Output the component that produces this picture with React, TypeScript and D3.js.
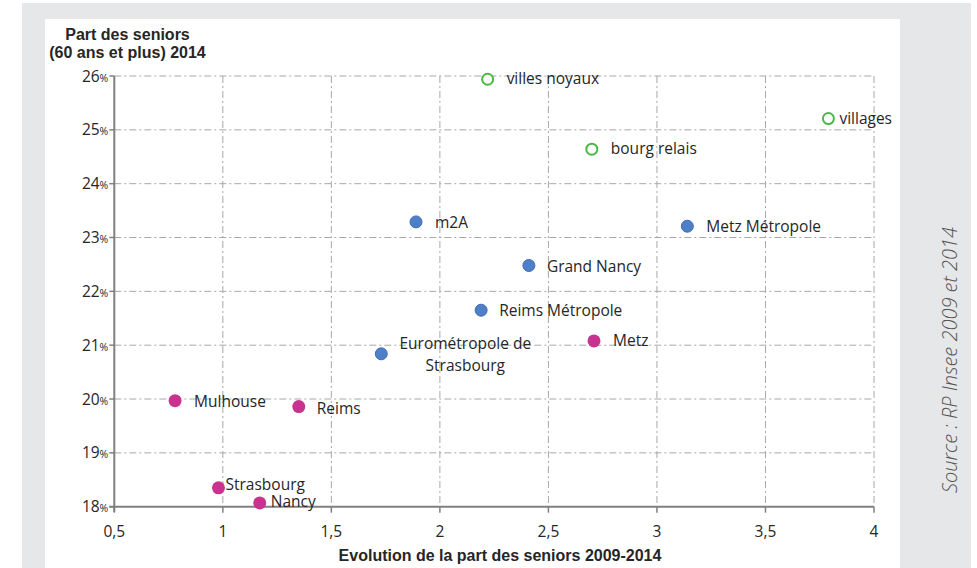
import React from "react";
import * as d3 from "d3";

const W = 977;
const H = 568;

// ---- data ----
const communes = ["Mulhouse", "Reims", "Strasbourg", "Nancy", "Metz"];
const communesX = [0.78, 1.35, 0.98, 1.17, 2.71];
const communesY = [19.97, 19.86, 18.35, 18.07, 21.08];

const epci = ["Eurométropole de Strasbourg", "m2A", "Grand Nancy", "Metz Métropole", "Reims Métropole"];
const epciX = [1.73, 1.89, 2.41, 3.14, 2.19];
const epciY = [20.84, 23.29, 22.48, 23.21, 21.65];

const espaces = ["villes noyaux", "villages", "bourg relais"];
const espacesX = [2.22, 3.79, 2.70];
const espacesY = [25.94, 25.21, 24.64];

const xTicks = [0.5, 1, 1.5, 2, 2.5, 3, 3.5, 4];
const yTicks = [18, 19, 20, 21, 22, 23, 24, 25, 26];

const xTitle = "Evolution de la part des seniors 2009-2014";
const yTitle = ["Part des seniors", "(60 ans et plus) 2014"];
const sourceText = "Source : RP Insee 2009 et 2014";

// label placement (style): dx, dy relative to point, anchor
const labelStyle: Record<string, { dx: number; dy: number; anchor?: string; lines?: string[] }> = {
  Mulhouse: { dx: 19, dy: 6 },
  Reims: { dx: 18, dy: 7 },
  Strasbourg: { dx: 7, dy: 2 },
  Nancy: { dx: 11, dy: 4 },
  Metz: { dx: 19, dy: 5 },
  "Eurométropole de Strasbourg": { dx: 84, dy: -5, anchor: "middle", lines: ["Eurométropole de", "Strasbourg"] },
  m2A: { dx: 19, dy: 6 },
  "Grand Nancy": { dx: 18, dy: 6 },
  "Metz Métropole": { dx: 19, dy: 6 },
  "Reims Métropole": { dx: 18, dy: 6 },
  "villes noyaux": { dx: 19, dy: 5 },
  villages: { dx: 11, dy: 5 },
  "bourg relais": { dx: 19, dy: 5 },
};

const MAGENTA = "#c9338f";
const BLUE = "#4f80c7";
const BLUE_STROKE = "#3f6db3";
const GREEN = "#4cb848";
const GRID = "#a8a8a8";
const AXIS = "#808080";
const TEXT = "#262626";
const FRAME = "#e6e7e9";

const LABEL_FONT = "'Open Sans', sans-serif";
const LABEL_SIZE = 15.5;

export default function App() {
  const x = d3.scaleLinear().domain([0.5, 4]).range([114.3, 874]);
  const y = d3.scaleLinear().domain([18, 26]).range([506.7, 76]);

  const dash = "7,3,2,3";

  const renderLabel = (name: string, px: number, py: number) => {
    const s = labelStyle[name];
    const lines = s.lines ?? [name];
    return (
      <text
        key={"l" + name}
        x={px + s.dx}
        y={py + s.dy}
        textAnchor={s.anchor ?? "start"}
        fontFamily={LABEL_FONT}
        fontSize={LABEL_SIZE}
        fill={TEXT}
      >
        {lines.map((ln, i) => (
          <tspan key={i} x={px + s.dx} dy={i === 0 ? 0 : 22}>
            {ln}
          </tspan>
        ))}
      </text>
    );
  };

  return (
    <svg
      width={W}
      height={H}
      style={{ position: "absolute", left: 0, top: 0, background: "#fff" }}
    >
      <rect x={22} y={3} width={949} height={H - 3} fill={FRAME} />
      <rect x={45} y={19} width={855} height={H - 19} fill="#fff" />

      {/* grid */}
      {yTicks.filter((t) => t !== 18).map((t) => (
        <line key={"gy" + t} x1={x(0.5)} x2={x(4)} y1={y(t)} y2={y(t)} stroke={GRID} strokeWidth={1} strokeDasharray={dash} />
      ))}
      {xTicks.filter((t) => t !== 0.5).map((t) => (
        <line key={"gx" + t} x1={x(t)} x2={x(t)} y1={y(26)} y2={y(18)} stroke={GRID} strokeWidth={1} strokeDasharray={dash} />
      ))}

      {/* axes */}
      <line x1={x(0.5)} x2={x(0.5)} y1={y(26)} y2={y(18) + 5} stroke={AXIS} strokeWidth={2} />
      <line x1={x(0.5) - 5} x2={x(4)} y1={y(18)} y2={y(18)} stroke={AXIS} strokeWidth={2} />
      {yTicks.map((t) => (
        <line key={"ty" + t} x1={x(0.5) - 5} x2={x(0.5)} y1={y(t)} y2={y(t)} stroke={AXIS} strokeWidth={1.5} />
      ))}
      {xTicks.map((t) => (
        <line key={"tx" + t} x1={x(t)} x2={x(t)} y1={y(18)} y2={y(18) + 6} stroke={AXIS} strokeWidth={1.5} />
      ))}

      {/* y tick labels */}
      {yTicks.map((t) => (
        <text key={"yl" + t} x={x(0.5) - 6} y={y(t) + 5.5} textAnchor="end" fontFamily={LABEL_FONT} fontSize={LABEL_SIZE} fill={TEXT}>
          {t}
          <tspan fontSize={10.5}>%</tspan>
        </text>
      ))}
      {/* x tick labels */}
      {xTicks.map((t) => (
        <text key={"xl" + t} x={x(t)} y={537} textAnchor="middle" fontFamily={LABEL_FONT} fontSize={LABEL_SIZE} fill={TEXT}>
          {d3.format("")(t).replace(".", ",")}
        </text>
      ))}

      {/* titles */}
      <text x={500} y={561} textAnchor="middle" fontFamily="'Liberation Sans', Arial, sans-serif" fontWeight="bold" fontSize={16} fill={TEXT}>
        {xTitle}
      </text>
      <text textAnchor="middle" fontFamily="'Liberation Sans', Arial, sans-serif" fontWeight="bold" fontSize={16} fill={TEXT}>
        <tspan x={127.5} y={39.5}>{yTitle[0]}</tspan>
        <tspan x={127.5} y={57.5}>{yTitle[1]}</tspan>
      </text>

      {/* source */}
      <text
        transform={`translate(957,360) rotate(-90)`}
        textAnchor="middle"
        fontFamily={LABEL_FONT}
        fontStyle="italic"
        fontWeight={300}
        fontSize={20}
        fill="#555"
      >
        {sourceText}
      </text>

      {/* points */}
      {communes.map((n, i) => (
        <circle key={"c" + n} cx={x(communesX[i])} cy={y(communesY[i])} r={6.5} fill={MAGENTA} />
      ))}
      {epci.map((n, i) => (
        <circle key={"e" + n} cx={x(epciX[i])} cy={y(epciY[i])} r={6} fill={BLUE} stroke={BLUE_STROKE} strokeWidth={1} />
      ))}
      {espaces.map((n, i) => (
        <circle key={"s" + n} cx={x(espacesX[i])} cy={y(espacesY[i])} r={5.5} fill="#fff" stroke={GREEN} strokeWidth={2} />
      ))}

      {/* labels */}
      {communes.map((n, i) => renderLabel(n, x(communesX[i]), y(communesY[i])))}
      {epci.map((n, i) => renderLabel(n, x(epciX[i]), y(epciY[i])))}
      {espaces.map((n, i) => renderLabel(n, x(espacesX[i]), y(espacesY[i])))}
    </svg>
  );
}
